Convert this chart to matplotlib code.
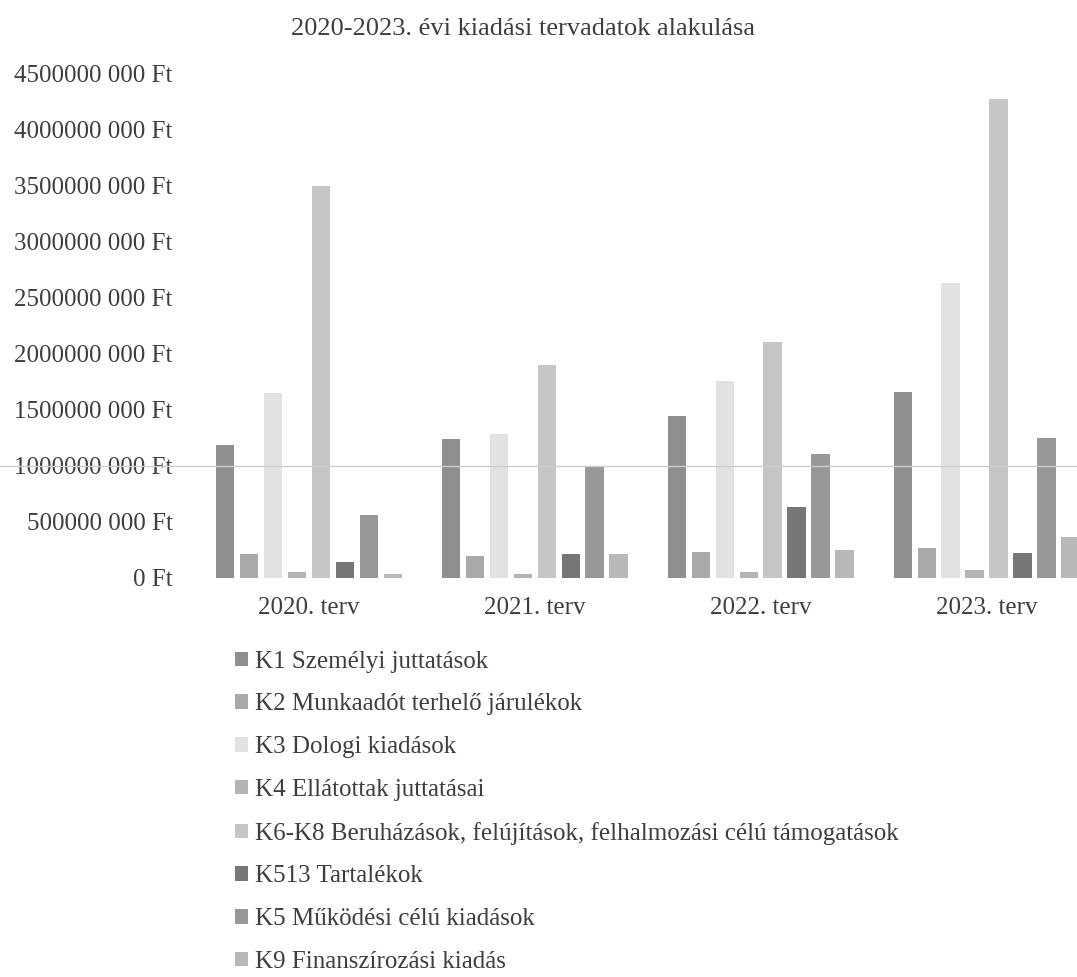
import matplotlib
matplotlib.use("Agg")
import matplotlib.pyplot as plt
import numpy as np
from matplotlib.patches import Patch
from matplotlib.ticker import FuncFormatter

plt.rcParams["font.family"] = ["Liberation Serif", "DejaVu Serif"]

years = ["2020. terv", "2021. terv", "2022. terv", "2023. terv"]
series = [
    "K1 Személyi juttatások",
    "K2 Munkaadót terhelő járulékok",
    "K3 Dologi kiadások",
    "K4 Ellátottak juttatásai",
    "K6-K8 Beruházások, felújítások, felhalmozási célú támogatások",
    "K513 Tartalékok",
    "K5 Működési célú kiadások",
    "K9 Finanszírozási kiadás",
]
# values in Ft
k1 = [1.19e9, 1.24e9, 1.45e9, 1.66e9]
k2 = [0.21e9, 0.20e9, 0.23e9, 0.265e9]
k3 = [1.65e9, 1.29e9, 1.76e9, 2.63e9]
k4 = [0.05e9, 0.04e9, 0.05e9, 0.07e9]
k6_k8 = [3.50e9, 1.90e9, 2.11e9, 4.28e9]
k513 = [0.14e9, 0.21e9, 0.63e9, 0.22e9]
k5 = [0.56e9, 1.00e9, 1.11e9, 1.25e9]
k9 = [0.035e9, 0.21e9, 0.25e9, 0.365e9]
values = [k1, k2, k3, k4, k6_k8, k513, k5, k9]
colors = ["#8f8f8f", "#a9a9a9", "#e2e2e2", "#b4b4b4",
          "#c6c6c6", "#777777", "#989898", "#b8b8b8"]

text_color = "#3e3e3e"

fig = plt.figure(figsize=(10.77, 9.77), dpi=100)
ax = fig.add_axes([0.182, 0.4084, 0.839, 0.5159])

x = np.arange(len(years))
pitch = 0.106
width = 0.082
for i, (vals, col) in enumerate(zip(values, colors)):
    offs = (i - (len(values) - 1) / 2) * pitch
    ax.bar(x + offs, vals, width=width, color=col, zorder=2)

# scanned gridline at 1 billion, runs across the labels too
ax.axhline(1e9, xmin=-0.25, xmax=1, color="#cdcdcd", lw=1.0,
           clip_on=False, zorder=3)

ax.set_xlim(-0.5, 3.5)
ax.set_ylim(0, 4.5e9)
ax.set_yticks(np.arange(0, 4.5e9 + 1, 0.5e9))


def ft_fmt(v, _pos):
    v = int(round(v))
    if v == 0:
        return "0 Ft"
    return f"{v // 1000} {v % 1000:03d} Ft"


ax.yaxis.set_major_formatter(FuncFormatter(ft_fmt))
ax.set_xticks(x)
ax.set_xticklabels(years)
ax.tick_params(axis="y", length=0, pad=17, labelsize=18, labelcolor=text_color)
ax.tick_params(axis="x", length=0, pad=14, labelsize=18, labelcolor=text_color)
for s in ax.spines.values():
    s.set_visible(False)

fig.text(0.486, 0.964, "2020-2023. évi kiadási tervadatok alakulása",
         ha="center", va="baseline", fontsize=19, color=text_color)

handles = [Patch(facecolor=c, edgecolor="none") for c in colors]
fig.legend(handles, series, loc="upper left",
           bbox_to_anchor=(0.218, 0.334), frameon=False,
           fontsize=18, labelcolor=text_color,
           handlelength=0.52, handleheight=0.52, handletextpad=0.3,
           labelspacing=0.83, borderaxespad=0, borderpad=0)

fig.savefig("out.png", dpi=100)
